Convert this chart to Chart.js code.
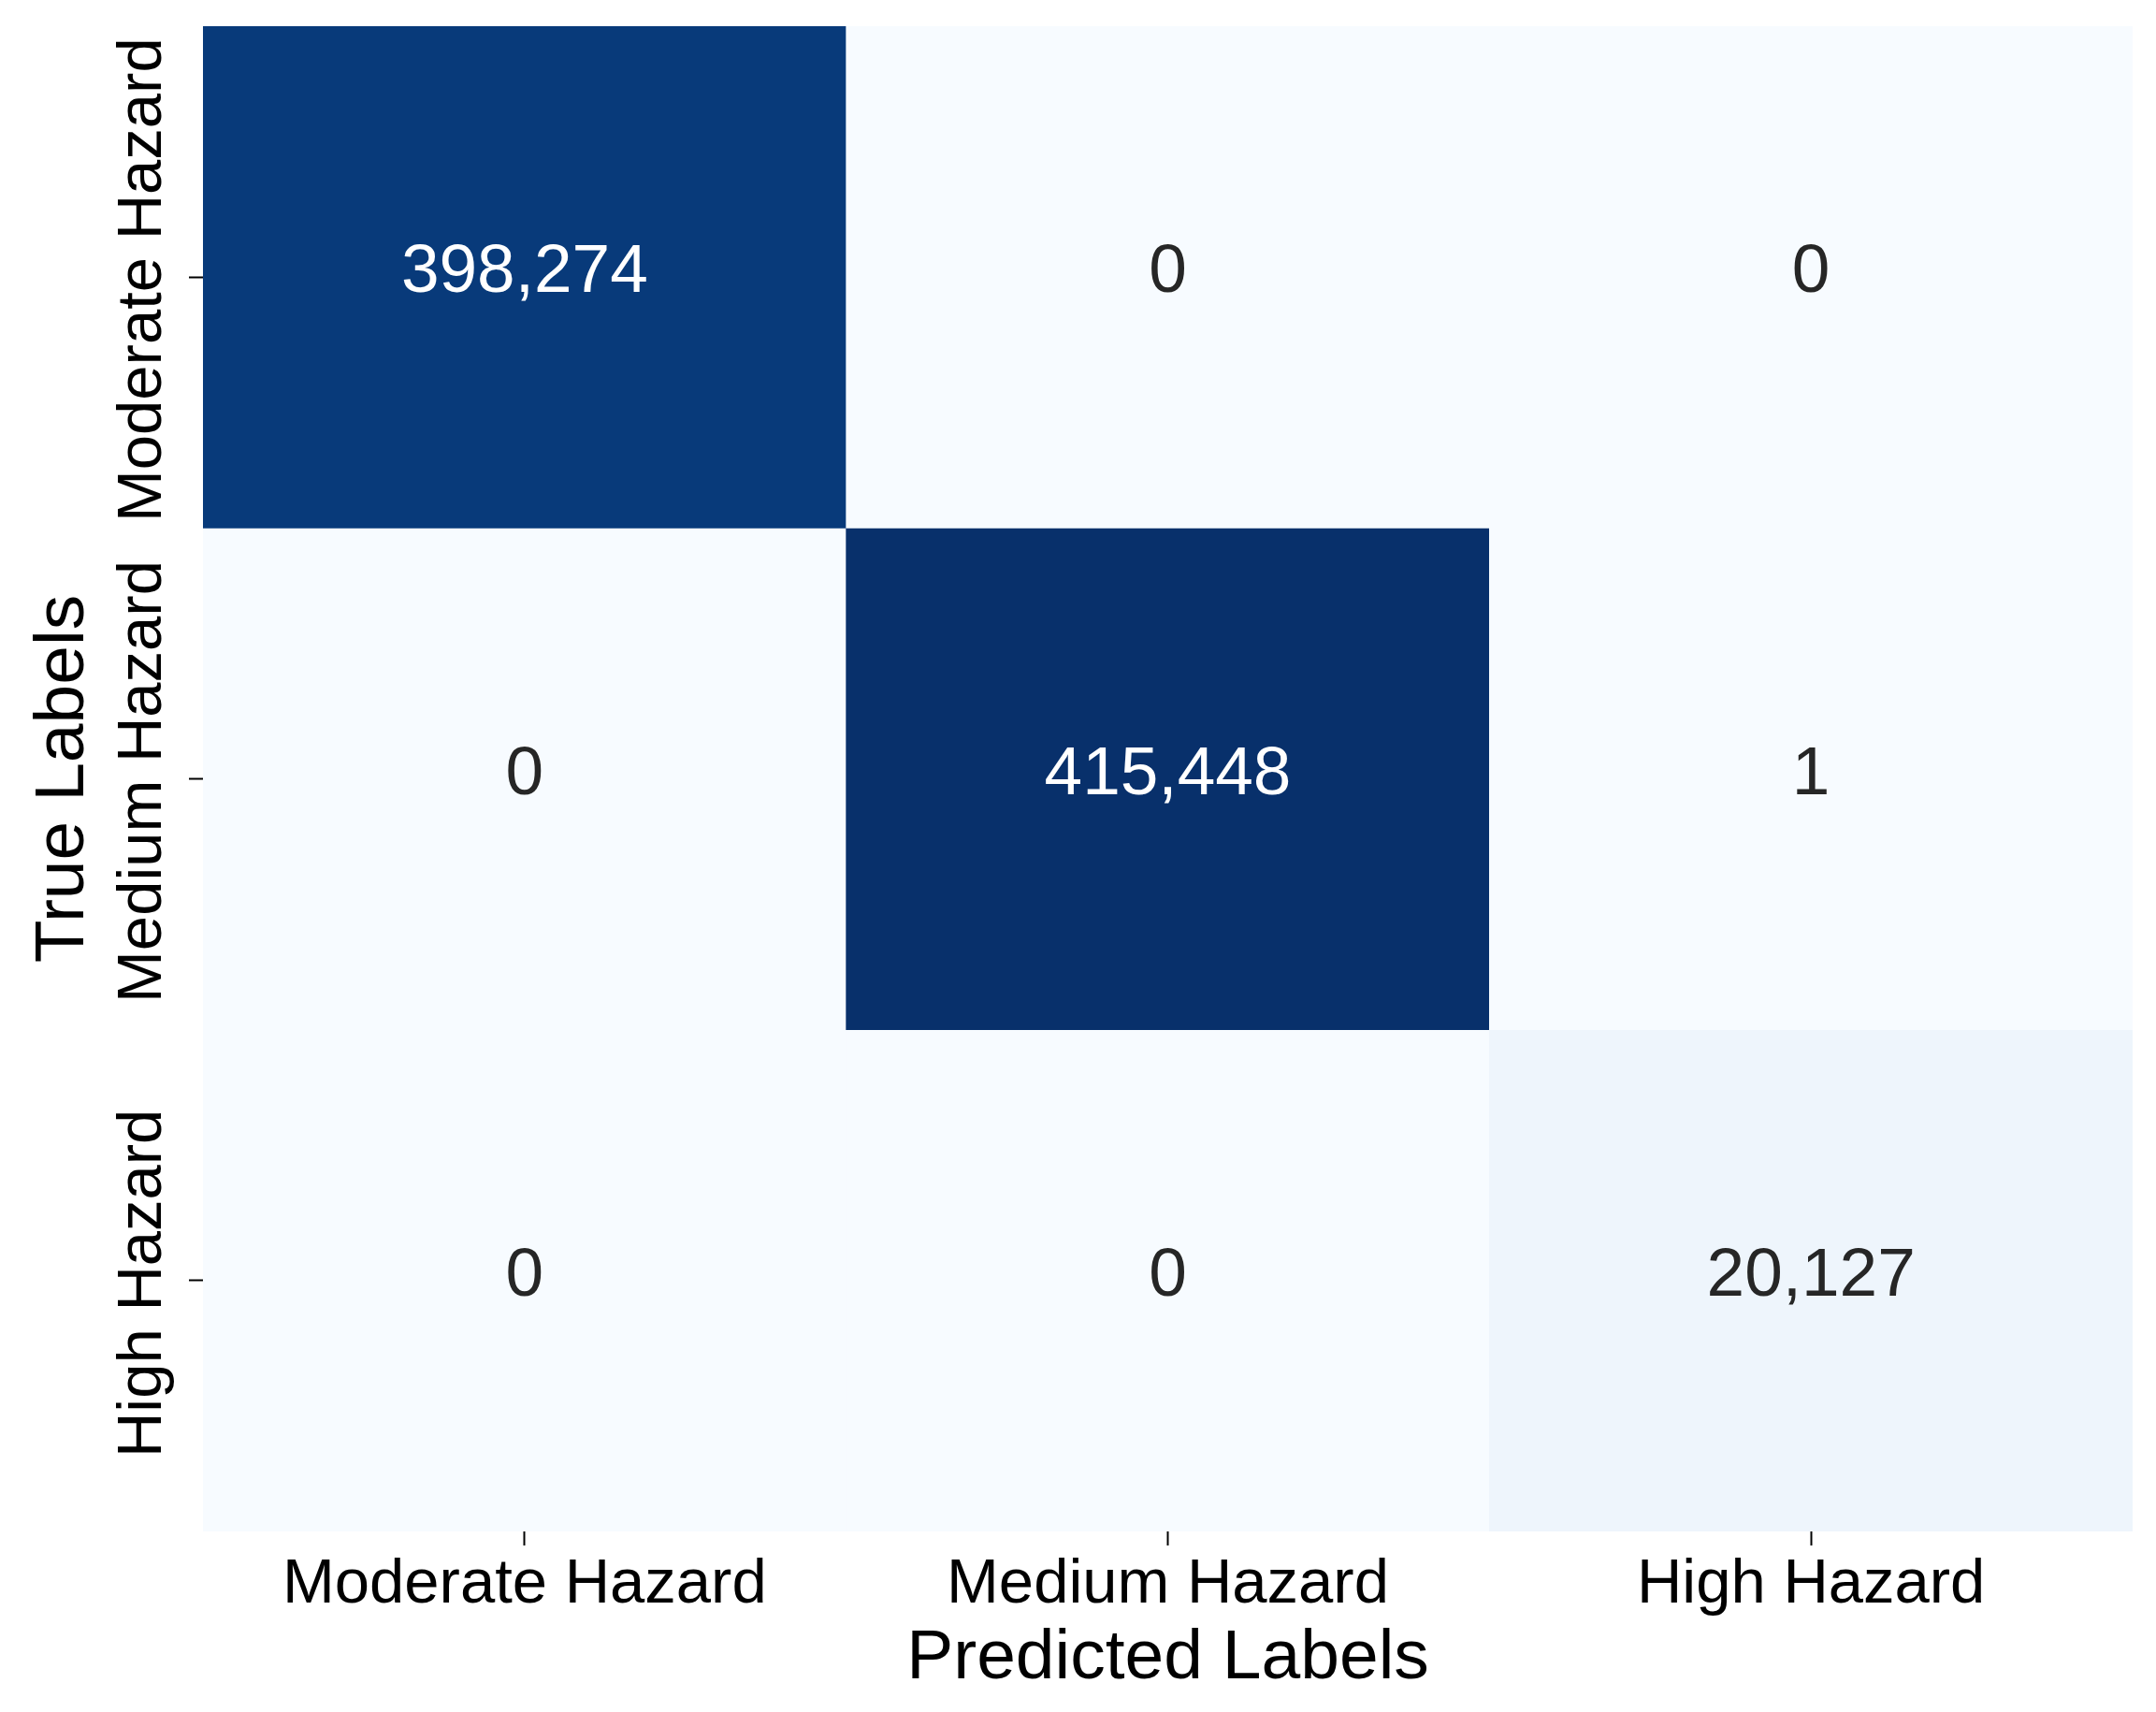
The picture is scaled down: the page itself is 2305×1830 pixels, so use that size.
<!DOCTYPE html>
<html>
<head>
<meta charset="utf-8">
<script src="https://cdn.jsdelivr.net/npm/chart.js@4/dist/chart.umd.min.js"></script>
<style>
  html, body { margin: 0; padding: 0; background: #ffffff; }
  canvas { display: block; }
</style>
</head>
<body>
<canvas id="cm" width="2305" height="1830"></canvas>
<script>
// confusion matrix values (rows = true label, cols = predicted label)
const predLabels = ['Moderate Hazard', 'Medium Hazard', 'High Hazard'];
const trueLabels = ['Moderate Hazard', 'Medium Hazard', 'High Hazard'];
const rowModerate = [398274, 0, 0];
const rowMedium = [0, 415448, 1];
const rowHigh = [0, 0, 20127];
const rows = [rowModerate, rowMedium, rowHigh];

const FONT = "'Liberation Sans', Arial, sans-serif";

// matplotlib "Blues" anchor colours
const bluesStops = [
    [247, 251, 255], [222, 235, 247], [198, 219, 239], [158, 202, 225],
    [107, 174, 214], [66, 146, 198], [33, 113, 181], [8, 81, 156], [8, 48, 107]
];

const vmax = Math.max(...rows.flat());

function blues(t) {
    t = Math.max(0, Math.min(1, t));
    t = Math.floor(t * 255.999) / 255; // 256 entry lookup like matplotlib
    const pos = t * (bluesStops.length - 1);
    const i = Math.min(Math.floor(pos), bluesStops.length - 2);
    const f = pos - i;
    const a = bluesStops[i], b = bluesStops[i + 1];
    return a.map((c, k) => Math.round(c + (b[k] - c) * f));
}

function cellRGB(v) {
    return blues(v / vmax);
}

function textColorFor(rgb) {
    const lin = rgb.map(c => {
        c = c / 255;
        return c <= 0.03928 ? c / 12.92 : Math.pow((c + 0.055) / 1.055, 2.4);
    });
    const lum = 0.2126 * lin[0] + 0.7152 * lin[1] + 0.0722 * lin[2];
    return lum > 0.408 ? '#262626' : '#ffffff';
}

const datasets = rows.map((row, r) => ({
    label: trueLabels[r],
    data: row.map(() => [r, r + 1]),
    values: row,
    backgroundColor: row.map(v => 'rgb(' + cellRGB(v).join(',') + ')'),
    borderWidth: 0,
    grouped: false,
    barPercentage: 1,
    categoryPercentage: 1
}));

const annotatePlugin = {
    id: 'annotate',
    afterDatasetsDraw(chart) {
        const ctx = chart.ctx;
        ctx.save();
        ctx.font = '73px ' + FONT;
        ctx.textAlign = 'center';
        ctx.textBaseline = 'middle';
        chart.data.datasets.forEach((ds, di) => {
            const meta = chart.getDatasetMeta(di);
            meta.data.forEach((bar, j) => {
                const v = ds.values[j];
                const cy = (bar.y + bar.base) / 2 - 4;
                ctx.fillStyle = textColorFor(cellRGB(v));
                ctx.fillText(v.toLocaleString('en-US'), bar.x, cy);
            });
        });
        ctx.restore();
    },
    afterDraw(chart) {
        // rotated row labels on the y axis
        const ctx = chart.ctx;
        const yScale = chart.scales.y;
        ctx.save();
        ctx.font = '67px ' + FONT;
        ctx.fillStyle = '#000000';
        ctx.textAlign = 'center';
        ctx.textBaseline = 'alphabetic';
        trueLabels.forEach((lab, i) => {
            const y = yScale.getPixelForValue(i + 0.5);
            ctx.save();
            ctx.translate(172, y + 3);
            ctx.rotate(-Math.PI / 2);
            ctx.fillText(lab, 0, 0);
            ctx.restore();
        });
        ctx.restore();
    }
};

new Chart(document.getElementById('cm'), {
    type: 'bar',
    data: {
        labels: predLabels,
        datasets: datasets
    },
    plugins: [annotatePlugin],
    options: {
        responsive: false,
        animation: false,
        devicePixelRatio: 1,
        layout: { padding: { left: 0, top: 28, right: 25, bottom: 0 } },
        plugins: {
            legend: { display: false },
            tooltip: { enabled: false }
        },
        scales: {
            x: {
                type: 'category',
                offset: true,
                border: { display: false },
                grid: {
                    offset: false,
                    drawOnChartArea: false,
                    drawTicks: true,
                    tickLength: 15,
                    tickColor: '#000000',
                    tickWidth: 2
                },
                ticks: {
                    color: '#000000',
                    padding: 2,
                    font: { family: FONT, size: 67, lineHeight: 1.2 }
                },
                title: {
                    display: true,
                    text: 'Predicted Labels',
                    color: '#000000',
                    font: { family: FONT, size: 75, lineHeight: 1.2 },
                    padding: { top: 0, bottom: 12 }
                },
                afterFit(scale) { scale.height = 193; }
            },
            y: {
                type: 'linear',
                min: 0,
                max: 3,
                reverse: true,
                border: { display: false },
                afterBuildTicks(scale) {
                    scale.ticks = trueLabels.map((_, i) => ({ value: i + 0.5 }));
                },
                grid: {
                    drawOnChartArea: false,
                    drawTicks: true,
                    tickLength: 15,
                    tickColor: '#000000',
                    tickWidth: 2
                },
                ticks: { display: false },
                title: {
                    display: true,
                    text: 'True Labels',
                    color: '#000000',
                    font: { family: FONT, size: 75, lineHeight: 1.2 },
                    padding: { top: 23, bottom: 0 }
                },
                afterFit(scale) { scale.width = 217; }
            }
        }
    }
});
</script>
</body>
</html>
